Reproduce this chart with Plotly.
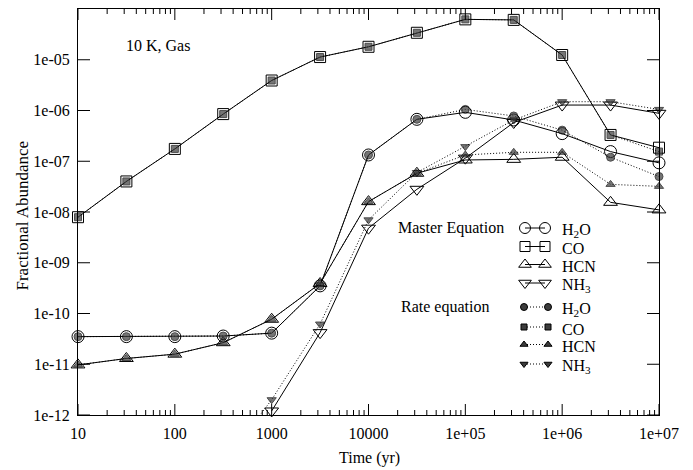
import plotly.graph_objects as go

# ---------------- data ----------------
time_yr = [10, 31.6, 100, 316, 1000, 3162, 1e4, 3.16e4, 1e5, 3.16e5, 1e6, 3.16e6, 1e7]

me_h2o = [3.5e-11, 3.5e-11, 3.5e-11, 3.6e-11, 4.1e-11, 3.5e-10, 1.33e-7, 6.7e-7, 9.2e-7, 6.5e-7, 3.5e-7, 1.55e-7, 9.3e-8]
me_co = [7.9e-9, 4.0e-8, 1.75e-7, 8.5e-7, 3.9e-6, 1.13e-5, 1.8e-5, 3.4e-5, 6.25e-5, 6.1e-5, 1.24e-5, 3.3e-7, 1.85e-7]
me_hcn = [9.7e-12, 1.3e-11, 1.58e-11, 2.66e-11, 7.7e-11, 3.9e-10, 1.6e-8, 5.8e-8, 1.06e-7, 1.09e-7, 1.2e-7, 1.55e-8, 1.1e-8]
me_nh3 = [None, None, None, None, 1.2e-12, 4.2e-11, 4.8e-9, 2.8e-8, 1.15e-7, 5.8e-7, 1.28e-6, 1.28e-6, 8.8e-7]

re_h2o = [3.5e-11, 3.5e-11, 3.5e-11, 3.6e-11, 4.1e-11, 3.5e-10, 1.33e-7, 6.7e-7, 1.05e-6, 7.8e-7, 4.1e-7, 1.2e-7, 5.0e-8]
re_co = [7.9e-9, 4.0e-8, 1.75e-7, 8.5e-7, 3.9e-6, 1.13e-5, 1.8e-5, 3.4e-5, 6.25e-5, 6.1e-5, 1.24e-5, 3.3e-7, 1.55e-7]
re_hcn = [9.7e-12, 1.3e-11, 1.58e-11, 2.66e-11, 7.7e-11, 3.9e-10, 1.6e-8, 5.8e-8, 1.33e-7, 1.5e-7, 1.5e-7, 3.5e-8, 3.2e-8]
re_nh3 = [None, None, None, 1.1e-13, 2.0e-12, 6.2e-11, 7.0e-9, 6.0e-8, 1.94e-7, 6.5e-7, 1.49e-6, 1.49e-6, 1.05e-6]

species = ["H<sub>2</sub>O", "CO", "HCN", "NH<sub>3</sub>"]
master_series = [me_h2o, me_co, me_hcn, me_nh3]
rate_series = [re_h2o, re_co, re_hcn, re_nh3]

x_tickvals = [10, 100, 1000, 1e4, 1e5, 1e6, 1e7]
x_ticktext = ["10", "100", "1000", "10000", "1e+05", "1e+06", "1e+07"]
x_minor_vals = [m * d for d in [10, 100, 1000, 1e4, 1e5, 1e6] for m in range(2, 10)]
y_tickvals = [1e-12, 1e-11, 1e-10, 1e-9, 1e-8, 1e-7, 1e-6, 1e-5]
y_ticktext = ["1e-12", "1e-11", "1e-10", "1e-09", "1e-08", "1e-07", "1e-06", "1e-05"]

# ---------------- style ----------------
FONT = "Liberation Serif"
open_symbols = ["circle-open", "square-open", "triangle-up-open", "triangle-down-open"]
fill_symbols = ["circle", "square", "triangle-up", "triangle-down"]
master_sizes = [12, 11, 12, 12]
rate_sizes = [8, 7, 8, 8]
RATE_FILL = "#3c3c3c"
DOT = "1px,2px"

W, H = 693, 470
L, R, T, B = 78, 34, 9, 55
PX0, PX1 = L, W - R
PY0, PY1 = H - B, T
XLOG = (1, 7)
YLOG = (-12, -4)
PLOT_W = PX1 - PX0
PLOT_H = PY0 - PY1
MAJOR_X_LEN, MINOR_X_LEN, MAJOR_Y_LEN = 11, 5, 12


def px(xp):
    return (xp - PX0) / PLOT_W


def py(yp):
    return (PY0 - yp) / PLOT_H


def dx(xp):
    # pixel -> data (log x axis), used only for the legend samples
    return 10 ** (XLOG[0] + (XLOG[1] - XLOG[0]) * px(xp))


def dy(yp):
    return 10 ** (YLOG[0] + (YLOG[1] - YLOG[0]) * py(yp))


fig = go.Figure()

for name, ys, sym, sz in zip(species, master_series, open_symbols, master_sizes):
    fig.add_trace(go.Scatter(
        x=time_yr, y=ys, mode="lines+markers", name="ME " + name,
        line=dict(color="black", width=1),
        marker=dict(symbol=sym, size=sz, color="black", line=dict(color="black", width=1)),
        cliponaxis=False, showlegend=False,
    ))

for name, ys, sym, sz in zip(species, rate_series, fill_symbols, rate_sizes):
    ymin = 10 ** YLOG[0]
    sizes = [sz if (v is not None and v >= ymin * 0.9) else 0 for v in ys]
    fig.add_trace(go.Scatter(
        x=time_yr, y=ys, mode="lines+markers", name="RE " + name,
        line=dict(color="black", width=1, dash=DOT),
        marker=dict(symbol=sym, size=sizes, color=RATE_FILL, line=dict(color="black", width=1)),
        cliponaxis=False, showlegend=False,
    ))

# ---------------- custom legend (inside the plot) ----------------
leg_master_y = [228, 246.5, 264.5, 283]
leg_rate_y = [307, 327, 344.5, 364]
for i in range(4):
    fig.add_trace(go.Scatter(
        x=[dx(525), dx(545)], y=[dy(leg_master_y[i])] * 2,
        mode="lines+markers", line=dict(color="black", width=1),
        marker=dict(symbol=open_symbols[i], size=master_sizes[i] - 1, color="black", line=dict(width=1)),
        showlegend=False, hoverinfo="skip",
    ))
    fig.add_trace(go.Scatter(
        x=[dx(524), dx(548)], y=[dy(leg_rate_y[i])] * 2,
        mode="lines+markers", line=dict(color="black", width=1, dash=DOT),
        marker=dict(symbol=fill_symbols[i], size=rate_sizes[i] - 1, color=RATE_FILL, line=dict(color="black", width=1)),
        showlegend=False, hoverinfo="skip",
    ))

tfont = dict(family=FONT, size=16, color="black")
annotations = []
for i in range(4):
    annotations.append(dict(x=px(560), y=py(leg_master_y[i] + 2), xref="paper", yref="paper", text=species[i],
                            showarrow=False, xanchor="left", yanchor="middle", font=tfont))
    annotations.append(dict(x=px(560), y=py(leg_rate_y[i] + 2), xref="paper", yref="paper", text=species[i],
                            showarrow=False, xanchor="left", yanchor="middle", font=tfont))
annotations += [
    dict(x=px(506), y=py(228), xref="paper", yref="paper", text="Master Equation", showarrow=False,
         xanchor="right", yanchor="middle", font=tfont),
    dict(x=px(491), y=py(307), xref="paper", yref="paper", text="Rate equation", showarrow=False,
         xanchor="right", yanchor="middle", font=tfont),
    dict(x=px(124), y=py(45), xref="paper", yref="paper", text="10 K, Gas", showarrow=False,
         xanchor="left", yanchor="middle", font=tfont),
    dict(x=px(369), y=py(458), xref="paper", yref="paper", text="Time (yr)", showarrow=False,
         xanchor="center", yanchor="middle", font=tfont),
    dict(x=px(21.5), y=py(216), xref="paper", yref="paper", text="Fractional Abundance", showarrow=False,
         textangle=-90, xanchor="center", yanchor="middle", font=dict(family=FONT, size=17, color="black")),
]

# ---------------- tick marks (inside, on all four sides) ----------------
shapes = []
tick_line = dict(color="black", width=1)
for v, ln in [(v, MAJOR_X_LEN) for v in x_tickvals] + [(v, MINOR_X_LEN) for v in x_minor_vals]:
    shapes.append(dict(type="line", xref="x", yref="paper", x0=v, x1=v, y0=0, y1=ln / PLOT_H, line=tick_line))
    shapes.append(dict(type="line", xref="x", yref="paper", x0=v, x1=v, y0=1, y1=1 - ln / PLOT_H, line=tick_line))
for v in y_tickvals:
    shapes.append(dict(type="line", xref="paper", yref="y", y0=v, y1=v, x0=0, x1=MAJOR_Y_LEN / PLOT_W, line=tick_line))
    shapes.append(dict(type="line", xref="paper", yref="y", y0=v, y1=v, x0=1, x1=1 - MAJOR_Y_LEN / PLOT_W, line=tick_line))

fig.update_layout(
    width=W, height=H,
    margin=dict(l=L, r=R, t=T, b=B, pad=0),
    paper_bgcolor="white", plot_bgcolor="white",
    font=tfont,
    showlegend=False,
    xaxis=dict(
        type="log", range=list(XLOG), tickmode="array", tickvals=x_tickvals, ticktext=x_ticktext,
        ticks="", ticklabelstandoff=4,
        showline=True, linecolor="black", linewidth=1, mirror=True,
        showgrid=False, zeroline=False,
        tickfont=tfont,
    ),
    yaxis=dict(
        type="log", range=list(YLOG), tickmode="array", tickvals=y_tickvals, ticktext=y_ticktext,
        ticks="", ticklabelstandoff=4,
        showline=True, linecolor="black", linewidth=1, mirror=True,
        showgrid=False, zeroline=False,
        tickfont=tfont,
    ),
    shapes=shapes,
    annotations=annotations,
)

fig.write_html("out.html")
